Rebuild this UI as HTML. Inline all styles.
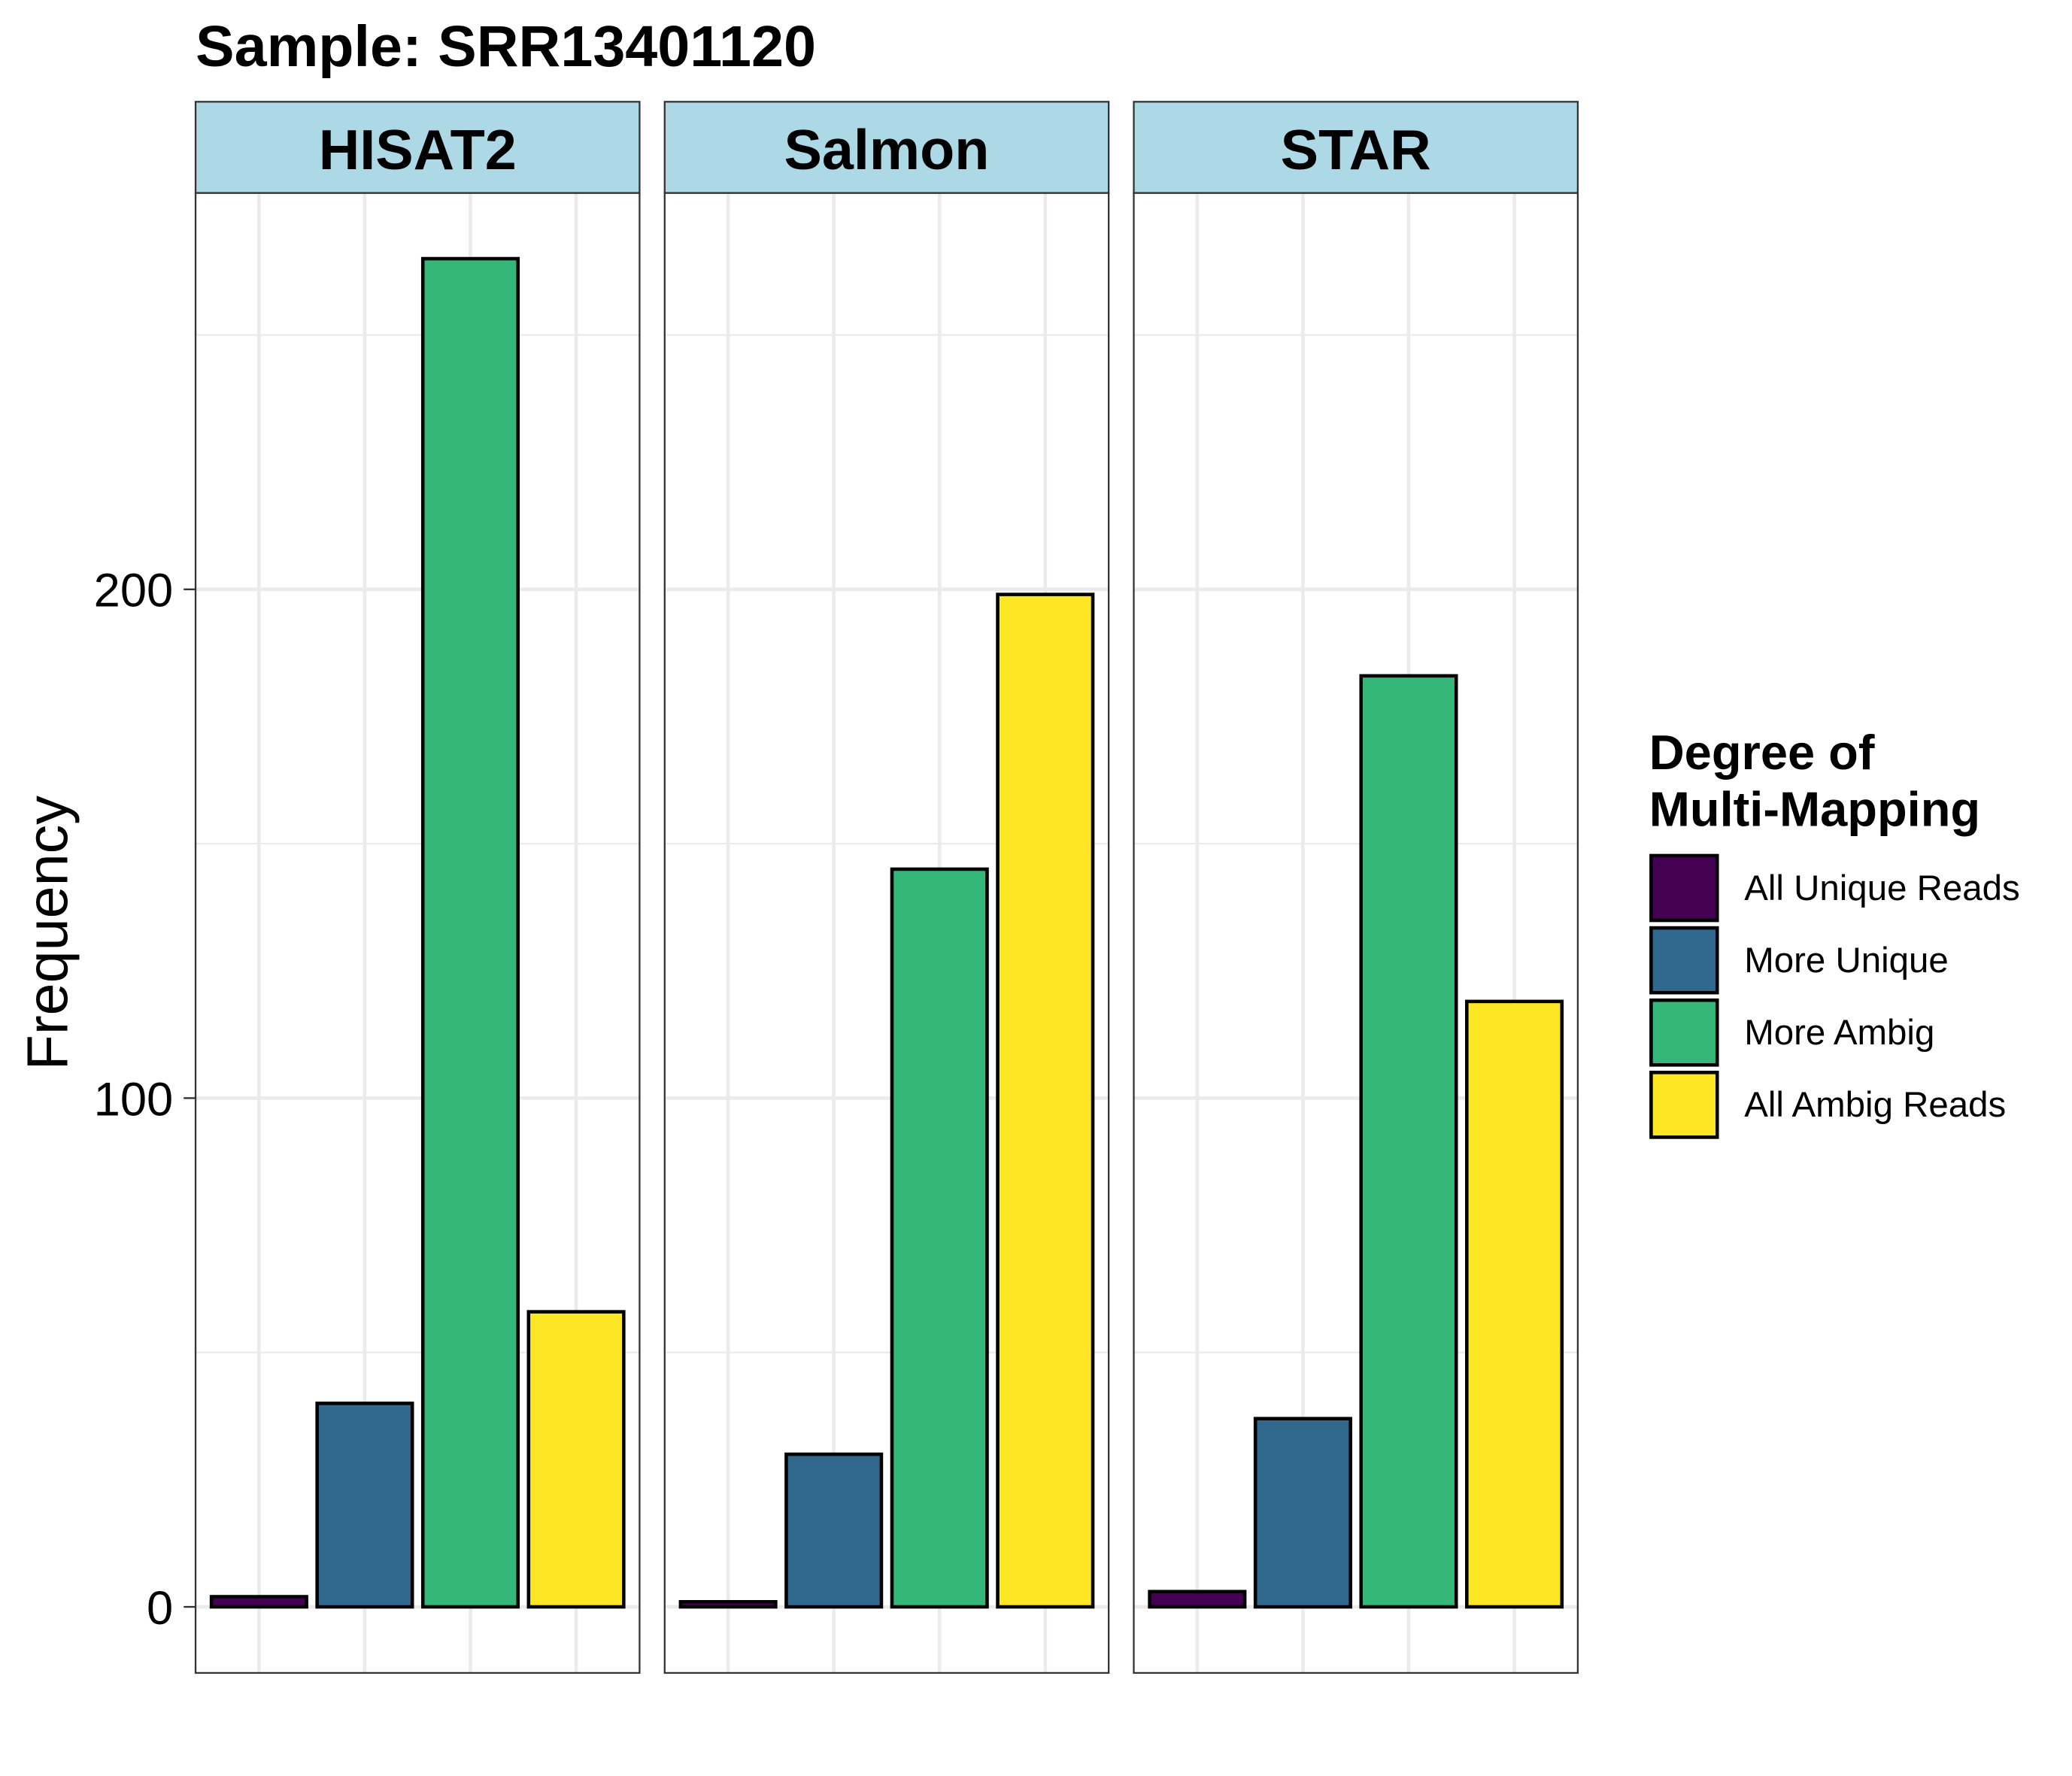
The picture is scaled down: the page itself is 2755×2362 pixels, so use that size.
<!DOCTYPE html>
<html><head><meta charset="utf-8"><style>
html,body{margin:0;padding:0;background:#fff;}
svg{display:block;font-family:"Liberation Sans",Arial,sans-serif;}
</style></head><body>
<svg id="chart" width="2755" height="2362" viewBox="0 0 1568 1344" preserveAspectRatio="none" xmlns="http://www.w3.org/2000/svg">
<rect width="1568" height="1344" fill="#fff"/>
<text x="148" y="50" font-size="44" font-weight="bold">Sample: SRR13401120</text>
<g id="panels"></g>
<text transform="translate(51,706) rotate(-90)" text-anchor="middle" font-size="44">Frequency</text>
<g id="legend">
<text x="1248" y="582" font-size="37" font-weight="bold">Degree of</text>
<text x="1248" y="625" font-size="37" font-weight="bold">Multi-Mapping</text>
</g>
</svg>
<script>
const panelNames = ["HISAT2", "Salmon", "STAR"];
const categories = ["All Unique Reads", "More Unique", "More Ambig", "All Ambig Reads"];
const hisat2Values = [2, 40, 265, 58];
const salmonValues = [1, 30, 145, 199];
const starValues = [3, 37, 183, 119];
const yTicks = [0, 100, 200];
const yMinor = [50, 150, 250];
const colors = ["#440154", "#31688E", "#35B779", "#FDE725"];
const allValues = [hisat2Values, salmonValues, starValues];

const NS = "http://www.w3.org/2000/svg";
const panelsG = document.getElementById('panels');
const legendG = document.getElementById('legend');
const panelLefts = [148, 503, 858];
const panelW = 336, panelTop = 146, panelBot = 1266;
const y0 = 1216, pxPerUnit = 3.85;
function yScale(v){ return y0 - v * pxPerUnit; }
function xScale(left, i){ return left + (0.6 + i) * (panelW / 4.2); }
const unitW = panelW / 4.2;
function mk(tag, attrs, parent){ const e = document.createElementNS(NS, tag); for (const k in attrs) e.setAttribute(k, attrs[k]); parent.appendChild(e); return e; }

panelNames.forEach((name, p) => {
  const L = panelLefts[p];
  const g = mk('g', {}, panelsG);
  
  
  mk('rect', {x: L, y: panelTop, width: panelW, height: panelBot - panelTop, fill: '#fff'}, g);
  yMinor.forEach(v => {
    const l = mk('line', {x1: L, x2: L + panelW, y1: yScale(v), y2: yScale(v), stroke: '#ebebeb', 'stroke-width': 1.3}, g);
    
    
  });
  yTicks.forEach(v => {
    const l = mk('line', {x1: L, x2: L + panelW, y1: yScale(v), y2: yScale(v), stroke: '#ebebeb', 'stroke-width': 2.6}, g);
    
    
  });
  categories.forEach((c, i) => {
    const l = mk('line', {x1: xScale(L, i), x2: xScale(L, i), y1: panelTop, y2: panelBot, stroke: '#ebebeb', 'stroke-width': 2.6}, g);
    
    
  });
  allValues[p].forEach((v, i) => {
    const cx = xScale(L, i), w = unitW * 0.9;
    const r = mk('rect', {x: cx - w/2, y: yScale(v), width: w, height: y0 - yScale(v), fill: colors[i], stroke: '#000', 'stroke-width': 2.6}, g);
    
    
  });
  mk('rect', {x: L, y: panelTop, width: panelW, height: panelBot - panelTop, fill: 'none', stroke: '#333', 'stroke-width': 1.3}, g);
  const s = mk('rect', {x: L, y: 77, width: panelW, height: 69, fill: '#ADD8E6', stroke: '#333', 'stroke-width': 1.3}, g);
  
  
  const t = mk('text', {x: L + panelW/2, y: 128, 'text-anchor': 'middle', 'font-size': 43, 'font-weight': 'bold'}, g);
  t.textContent = name;
  
  
});

yTicks.forEach(v => {
  const t = mk('text', {x: 131, y: yScale(v) + 13, 'text-anchor': 'end', 'font-size': 36, fill: '#000'}, panelsG);
  t.textContent = v;
  
  
  const l = mk('line', {x1: 139, x2: 148, y1: yScale(v), y2: yScale(v), stroke: '#333', 'stroke-width': 1.3}, panelsG);
  
  
});

categories.forEach((c, i) => {
  const top = 647 + i * 54.7;
  const r = mk('rect', {x: 1249.5, y: top + 0.5, width: 50, height: 49, fill: colors[i], stroke: '#000', 'stroke-width': 2.6}, legendG);
  
  
  const t = mk('text', {x: 1320, y: top + 34, 'font-size': 27}, legendG);
  t.textContent = c;
  
  
});
</script>
</body></html>
